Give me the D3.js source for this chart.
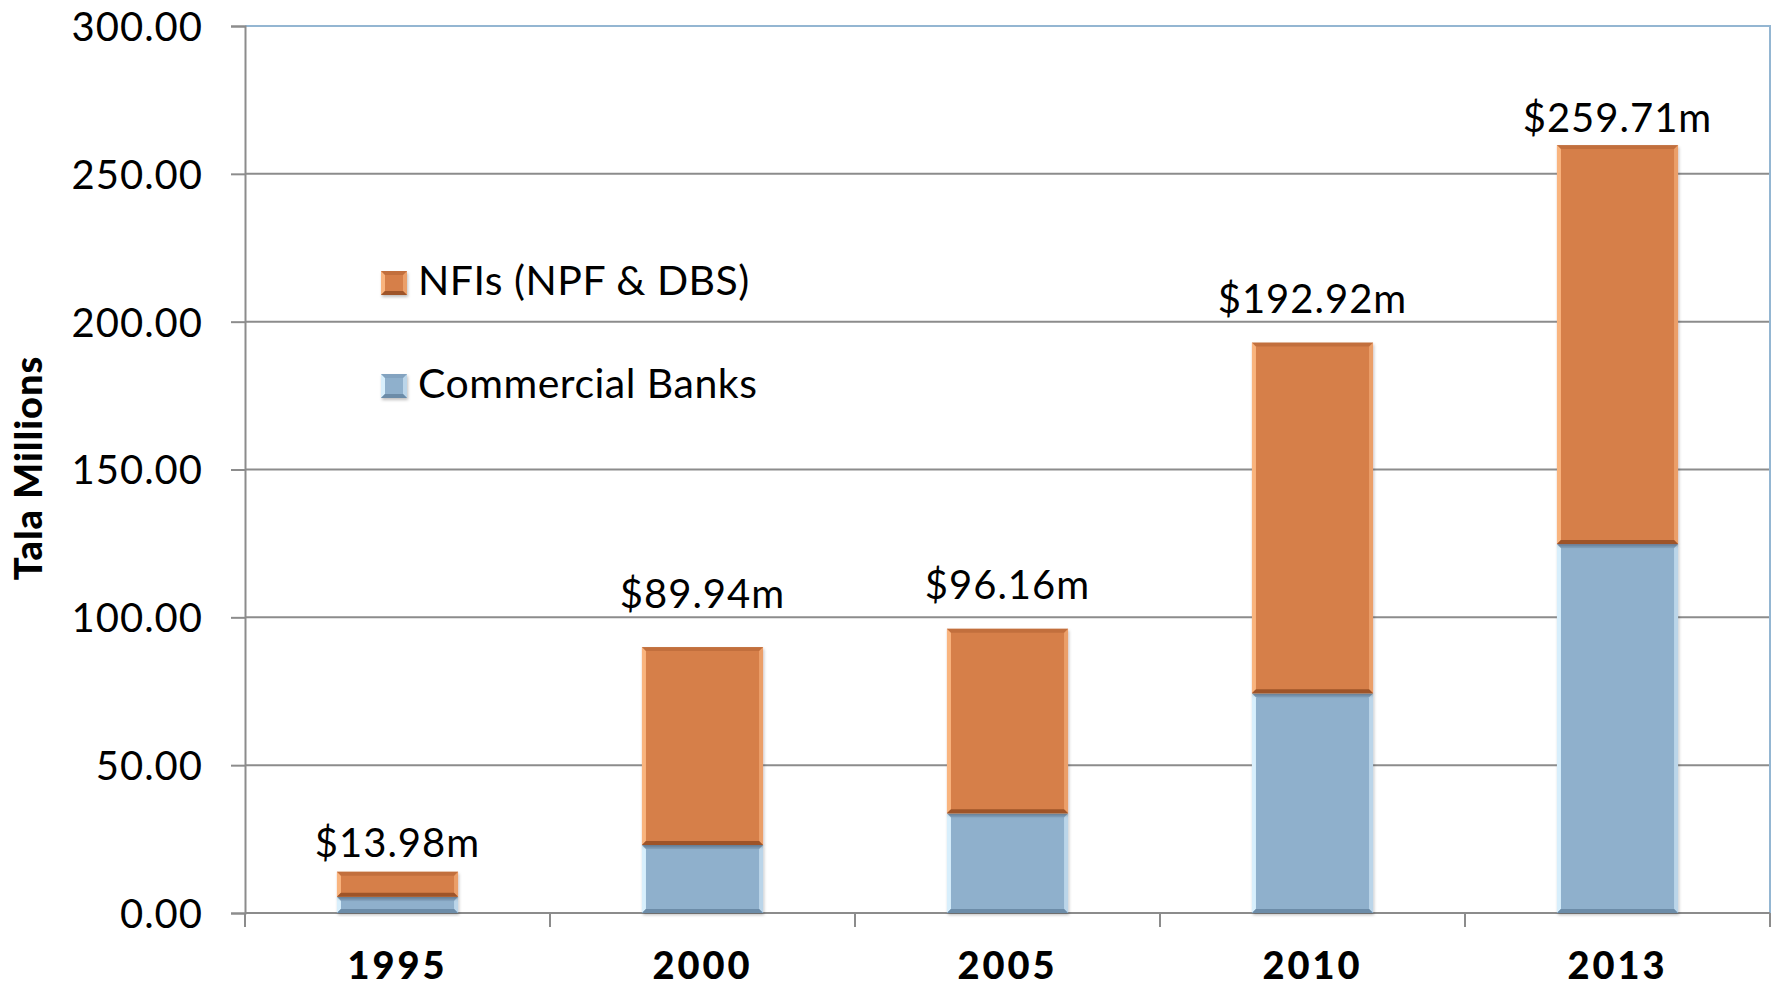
<!DOCTYPE html>
<html>
<head>
<meta charset="utf-8">
<script src="https://cdn.jsdelivr.net/npm/d3@7"></script>
<style>
  body { margin: 0; background: #fff; }
  svg text { font-family: Lato, "Open Sans", sans-serif; fill: #000; }
</style>
</head>
<body>
<script>
// chart data
var years = ["1995", "2000", "2005", "2010", "2013"];
var banks = [5.5, 23.0, 33.7, 74.3, 124.8];
var nfis = [8.48, 66.94, 62.46, 118.62, 134.91];
var totals = ["$13.98m", "$89.94m", "$96.16m", "$192.92m", "$259.71m"];
var yTicks = [0, 50, 100, 150, 200, 250, 300];
var seriesNames = ["NFIs (NPF & DBS)", "Commercial Banks"];

var width = 1777, height = 987;
var plotLeft = 245, plotRight = 1770, plotTop = 26, plotBottom = 913;

var colors = {
  bank: {main: "#8fb0cc", light: "#d8effc", dark: "#6c8ca8"},
  nfi: {main: "#d67f48", light: "#f9b47e", dark: "#9e5429"}
};

var svg = d3.select("body").append("svg")
    .attr("width", width)
    .attr("height", height);

var defs = svg.append("defs");
defs.append("filter")
    .attr("id", "shadow")
    .attr("x", "-10%").attr("y", "-10%")
    .attr("width", "130%").attr("height", "130%")
  .append("feDropShadow")
    .attr("dx", 1).attr("dy", 2)
    .attr("stdDeviation", 1.5)
    .attr("flood-color", "#000")
    .attr("flood-opacity", 0.25);

var x = d3.scaleBand()
    .domain(years)
    .range([plotLeft, plotRight])
    .paddingInner(0.603)
    .paddingOuter(0.3015);

var y = d3.scaleLinear()
    .domain([0, 300])
    .range([plotBottom, plotTop]);

// grid lines
svg.append("g")
    .selectAll("line")
    .data(yTicks.slice(1, -1))
    .enter().append("line")
    .attr("x1", plotLeft).attr("x2", plotRight)
    .attr("y1", function(d) { return y(d); })
    .attr("y2", function(d) { return y(d); })
    .attr("stroke", "#8c8c8c")
    .attr("stroke-width", 2);

// plot area border (top & right)
svg.append("path")
    .attr("d", "M" + plotLeft + "," + y(300) + "H" + plotRight + "V" + plotBottom)
    .attr("fill", "none")
    .attr("stroke", "#94b6d2")
    .attr("stroke-width", 2);

// y axis
var yAxis = svg.append("g")
    .attr("transform", "translate(" + plotLeft + ",0)")
    .call(d3.axisLeft(y).tickValues(yTicks).tickSize(14).tickPadding(28)
      .tickFormat(d3.format(".2f")));
yAxis.select(".domain").attr("stroke", "#8c8c8c").attr("stroke-width", 2);
yAxis.selectAll(".tick line").attr("stroke", "#8c8c8c").attr("stroke-width", 2);
yAxis.selectAll(".tick text")
    .style("font-size", "40px")
    .style("letter-spacing", "1px")
    .attr("dy", "0.36em");

// x axis (ticks between categories)
var xAxis = svg.append("g")
    .attr("transform", "translate(0," + plotBottom + ")");
xAxis.append("line")
    .attr("x1", plotLeft).attr("x2", plotRight)
    .attr("stroke", "#8c8c8c").attr("stroke-width", 2);
var bounds = years.map(function(d) { return x(d) - x.step() * x.paddingInner() / 2; });
bounds.push(plotRight);
xAxis.selectAll(".xtick")
    .data(bounds)
    .enter().append("line")
    .attr("x1", function(d) { return d; })
    .attr("x2", function(d) { return d; })
    .attr("y1", 0).attr("y2", 14)
    .attr("stroke", "#8c8c8c").attr("stroke-width", 2);
xAxis.selectAll(".xlabel")
    .data(years)
    .enter().append("text")
    .attr("x", function(d) { return x(d) + x.bandwidth() / 2; })
    .attr("y", 66)
    .attr("text-anchor", "middle")
    .style("font-size", "38px")
    .style("font-weight", "900")
    .style("letter-spacing", "3px")
    .text(function(d) { return d; });

// y title
svg.append("text")
    .attr("transform", "translate(42,468) rotate(-90)")
    .attr("text-anchor", "middle")
    .style("font-size", "38px")
    .style("font-weight", "900")
    .style("letter-spacing", "1px")
    .text("Tala Millions");

// bevelled block
function bevel(g, x0, y0, w, h, c) {
  var b = Math.min(4, h / 3);
  g.append("rect")
      .attr("x", x0).attr("y", y0).attr("width", w).attr("height", h)
      .attr("fill", c.main)
      .attr("filter", "url(#shadow)");
  // left highlight
  g.append("path")
      .attr("d", "M" + x0 + "," + y0 + "L" + (x0 + b) + "," + (y0 + b) + "V" + (y0 + h - b) + "L" + x0 + "," + (y0 + h) + "Z")
      .attr("fill", c.light);
  // right highlight
  g.append("path")
      .attr("d", "M" + (x0 + w) + "," + y0 + "L" + (x0 + w - b) + "," + (y0 + b) + "V" + (y0 + h - b) + "L" + (x0 + w) + "," + (y0 + h) + "Z")
      .attr("fill", c.light).attr("opacity", 0.6);
  // top edge
  g.append("path")
      .attr("d", "M" + x0 + "," + y0 + "H" + (x0 + w) + "L" + (x0 + w - b) + "," + (y0 + b) + "H" + (x0 + b) + "Z")
      .attr("fill", c.dark).attr("opacity", 0.35);
  // bottom shade
  g.append("path")
      .attr("d", "M" + x0 + "," + (y0 + h) + "H" + (x0 + w) + "L" + (x0 + w - b) + "," + (y0 + h - b) + "H" + (x0 + b) + "Z")
      .attr("fill", c.dark);
}

var bars = svg.append("g");
years.forEach(function(yr, i) {
  var g = bars.append("g");
  var bx = x(yr), bw = x.bandwidth();
  bevel(g, bx, y(banks[i]), bw, y(0) - y(banks[i]), colors.bank);
  bevel(g, bx, y(banks[i] + nfis[i]), bw, y(banks[i]) - y(banks[i] + nfis[i]), colors.nfi);
});

// total labels (hand-placed above each bar, as in the original)
var labelLift = [15, 39, 30, 30, 13];
svg.append("g")
    .selectAll("text")
    .data(years)
    .enter().append("text")
    .attr("x", function(d) { return x(d) + x.bandwidth() / 2; })
    .attr("y", function(d, i) { return y(banks[i] + nfis[i]) - labelLift[i]; })
    .attr("text-anchor", "middle")
    .style("font-size", "40px")
    .style("letter-spacing", "1px")
    .text(function(d, i) { return totals[i]; });

// legend
var legend = svg.append("g");
var legendColors = [colors.nfi, colors.bank];
seriesNames.forEach(function(name, i) {
  var ly = 295 + i * 103;
  var lg = legend.append("g");
  bevel(lg, 381, ly - 24, 26, 24, legendColors[i]);
  lg.append("text")
      .attr("x", 418)
      .attr("y", ly)
      .style("font-size", "41px")
      .style("letter-spacing", "0.5px")
      .text(name);
});
</script>
</body>
</html>
